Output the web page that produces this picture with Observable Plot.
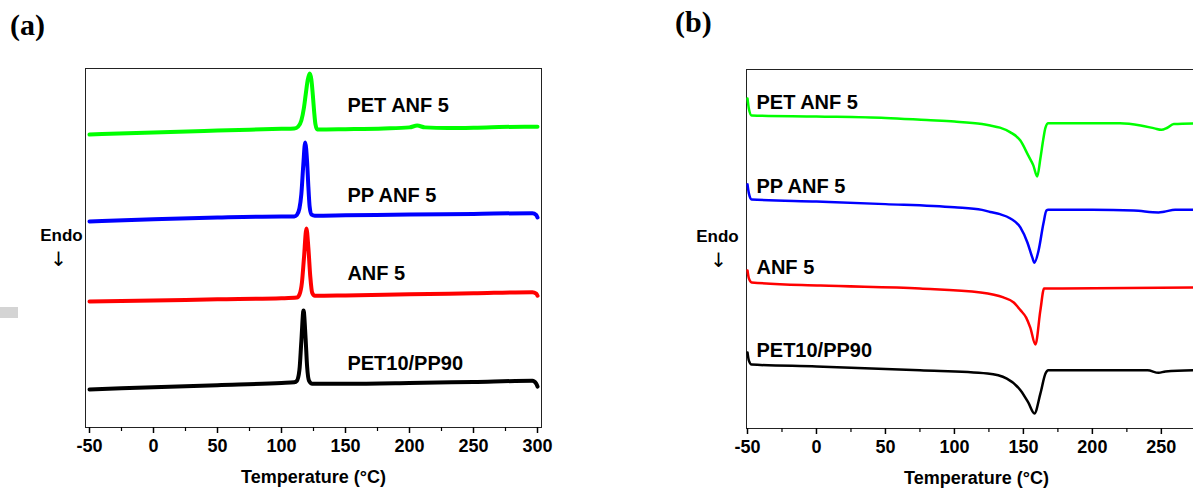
<!DOCTYPE html>
<html><head><meta charset="utf-8">
<script src="https://cdn.jsdelivr.net/npm/d3@7"></script>
<script src="https://cdn.jsdelivr.net/npm/@observablehq/plot@0.6"></script>
<style>
html,body{margin:0;padding:0;background:#fff;overflow:hidden;width:1193px;height:490px;}
#wrap{position:relative;width:1193px;height:490px;overflow:hidden;font-family:"Liberation Sans",Arial,sans-serif;}
.panel{position:absolute;top:0;}
.panel svg{max-width:none !important;}
.tag{position:absolute;font-family:"Liberation Serif","Times New Roman",serif;font-weight:bold;font-size:30px;line-height:30px;color:#000;}
.smudge{position:absolute;left:0;top:307px;width:18px;height:11px;background:#d4d4d4;}
</style></head><body>
<div id="wrap">
  <div class="tag" style="left:10px;top:10px;">(a)</div>
  <div class="tag" style="left:675px;top:7px;">(b)</div>
  <div class="smudge"></div>
  <div id="pa" class="panel" style="left:0px;width:600px;"></div>
  <div id="pb" class="panel" style="left:600px;width:620px;"></div>
</div>
<script>
// ---------- data ----------
const seriesNames = ["PET ANF 5", "PP ANF 5", "ANF 5", "PET10/PP90"];
const seriesColors = ["#00ff00", "#0000ff", "#ff0000", "#000000"];

// Panel (a): cooling scans, temperature (°C) and heat flow (a.u., offset)
const a_PETANF5_T = [-50, 0, 50, 100, 110, 113, 115.5, 117.5, 119, 120.5, 122, 123.3, 124.5, 125.5, 126.5, 128, 150, 180, 200, 206, 212, 230, 260, 290, 300];
const a_PETANF5_V = [8.16, 8.22, 8.27, 8.32, 8.33, 8.38, 8.55, 8.9, 9.3, 9.68, 9.86, 9.7, 9.25, 8.8, 8.45, 8.3, 8.31, 8.33, 8.36, 8.41, 8.36, 8.34, 8.36, 8.38, 8.38];
const a_PPANF5_T = [-50, 0, 50, 100, 110, 112, 114, 115.5, 117, 118.5, 120, 121, 122, 123.5, 126, 150, 200, 250, 296, 299, 300];
const a_PPANF5_V = [5.74, 5.80, 5.85, 5.88, 5.88, 5.92, 6.1, 6.5, 7.3, 7.94, 7.4, 6.7, 6.15, 5.93, 5.90, 5.91, 5.93, 5.95, 5.97, 5.92, 5.85];
const a_ANF5_T = [-50, 0, 50, 100, 112, 114, 116, 117.5, 119.5, 121, 122.5, 124, 126, 150, 200, 250, 296, 299, 300];
const a_ANF5_V = [3.51, 3.54, 3.57, 3.60, 3.62, 3.7, 4.05, 4.7, 5.54, 5.0, 4.2, 3.75, 3.67, 3.68, 3.71, 3.74, 3.77, 3.73, 3.67];
const a_PETPP_T = [-50, 0, 50, 100, 110, 112, 114, 115.5, 117.2, 118.8, 120, 121.5, 124, 150, 200, 250, 296, 299, 300];
const a_PETPP_V = [1.06, 1.12, 1.18, 1.24, 1.26, 1.3, 1.6, 2.4, 3.26, 2.5, 1.7, 1.3, 1.22, 1.22, 1.24, 1.27, 1.3, 1.22, 1.14];

// Panel (b): heating scans
const b_PETANF5_T = [-50, -49, -47, 0, 50, 80, 100, 120, 126, 133, 140.6, 147.8, 153.6, 157.2, 160, 162.3, 164.5, 166, 168, 175, 220, 235, 245, 250, 254, 259, 282];
const b_PETANF5_V = [9.19, 8.91, 8.72, 8.69, 8.65, 8.59, 8.55, 8.48, 8.44, 8.38, 8.25, 8.02, 7.60, 7.33, 7.02, 7.52, 8.08, 8.38, 8.50, 8.50, 8.50, 8.44, 8.36, 8.32, 8.37, 8.48, 8.50];
const b_PPANF5_T = [-50, -49, -47, 0, 50, 100, 120, 126, 133, 140.6, 147.8, 152.9, 156.5, 158, 161, 164.5, 166.7, 168, 200, 230, 248, 252, 260, 282];
const b_PPANF5_V = [6.80, 6.55, 6.38, 6.32, 6.25, 6.16, 6.09, 6.03, 5.97, 5.85, 5.60, 5.18, 4.76, 4.62, 4.96, 5.71, 6.07, 6.09, 6.09, 6.07, 6.02, 6.04, 6.09, 6.09];
const b_ANF5_T = [-50, -49, -47, 3, 75, 119, 135.5, 143, 148, 152, 155, 158.7, 162.3, 165, 168, 282];
const b_ANF5_V = [4.40, 4.18, 4.07, 3.98, 3.90, 3.79, 3.65, 3.51, 3.29, 3.09, 2.81, 2.34, 3.29, 3.90, 3.90, 3.93];
const b_PETPP_T = [-50, -49, -47, 0, 75, 124, 138, 148, 153.6, 158, 162.3, 166, 168, 240, 248, 253, 282];
const b_PETPP_V = [2.12, 1.89, 1.78, 1.73, 1.62, 1.53, 1.39, 1.06, 0.72, 0.42, 0.97, 1.53, 1.62, 1.62, 1.55, 1.59, 1.63];

// label anchors (temperature, heat flow)
const labelT_a = 151.5;
const labelV_a = [8.97, 6.46, 4.29, 1.78];
const labelT_b = -43.5;
const labelV_b = [9.08, 6.74, 4.48, 2.17];

const majorTicks_a = [-50, 0, 50, 100, 150, 200, 250, 300];
const minorTicks_a = [-25, 25, 75, 125, 175, 225, 275];
const majorTicks_b = [-50, 0, 50, 100, 150, 200, 250];
const minorTicks_b = [-25, 25, 75, 125, 175, 225, 275];
const xLabel = "Temperature (°C)";

// ---------- build ----------
const toRows = (T, V) => T.map((t, i) => ({T: t, v: V[i]}));
const seriesA = [[a_PETANF5_T, a_PETANF5_V], [a_PPANF5_T, a_PPANF5_V], [a_ANF5_T, a_ANF5_V], [a_PETPP_T, a_PETPP_V]].map(([t, v]) => toRows(t, v));
const seriesB = [[b_PETANF5_T, b_PETANF5_V], [b_PPANF5_T, b_PPANF5_V], [b_ANF5_T, b_ANF5_V], [b_PETPP_T, b_PETPP_V]].map(([t, v]) => toRows(t, v));

function panel({series, domain, major, minor, width, marginLeft, marginRight, marginTop, marginBottom, inset, lineWidth, labelT, labelV, endoDx, arrowDx}) {
  const marks = [
    Plot.frame({stroke: "#222", strokeWidth: 1}),
    Plot.axisX(major, {tickSize: 6, tickPadding: 6, fontSize: 18, fontWeight: "bold", strokeWidth: 1.5, label: null, tickFormat: d => String(d), fill: "#000"}),
    Plot.axisX(minor, {tickSize: 4, text: null, strokeWidth: 1.2, label: null}),
    ...series.map((rows, i) => Plot.line(rows, {x: "T", y: "v", stroke: seriesColors[i], strokeWidth: lineWidth, curve: "monotone-x", strokeLinecap: "round", strokeLinejoin: "round"})),
    Plot.text(seriesNames, {x: () => labelT, y: (d, i) => labelV[i], text: d => d, textAnchor: "start", fontSize: 20, fontWeight: "bold", fill: "#000"}),
    Plot.text([xLabel], {frameAnchor: "bottom", textAnchor: "middle", dy: 55, text: d => d, fontSize: 18, fontWeight: "bold", fill: "#000", letterSpacing: "0.4px"}),
    Plot.text(["Endo"], {frameAnchor: "left", textAnchor: "middle", dx: endoDx, dy: -12, text: d => d, fontSize: 17, fontWeight: "bold", fill: "#000"}),
    Plot.text(["\u2193"], {frameAnchor: "left", textAnchor: "middle", dx: arrowDx, dy: 12, text: d => d, fontSize: 20, fontWeight: "normal", fill: "#000", fontFamily: "DejaVu Sans"})
  ];
  return Plot.plot({
    width, height: 490,
    marginLeft, marginRight, marginTop, marginBottom,
    style: {fontFamily: "'Liberation Sans', Arial, sans-serif", background: "transparent", overflow: "visible", maxWidth: "none"},
    x: {domain, inset, axis: null},
    y: {domain: [0, 10], axis: null},
    marks
  });
}

document.getElementById("pa").appendChild(panel({
  series: seriesA, domain: [-50, 300], major: majorTicks_a, minor: minorTicks_a,
  width: 600, marginLeft: 85, marginRight: 59, marginTop: 68, marginBottom: 63, inset: 4,
  lineWidth: 4, labelT: labelT_a, labelV: labelV_a, endoDx: -24, arrowDx: -27
}));
document.getElementById("pb").appendChild(panel({
  series: seriesB, domain: [-50, 282], major: majorTicks_b, minor: minorTicks_b,
  width: 620, marginLeft: 146, marginRight: 14, marginTop: 69, marginBottom: 62, inset: 1,
  lineWidth: 2.5, labelT: labelT_b, labelV: labelV_b, endoDx: -29, arrowDx: -28
}));
</script>
</body></html>
